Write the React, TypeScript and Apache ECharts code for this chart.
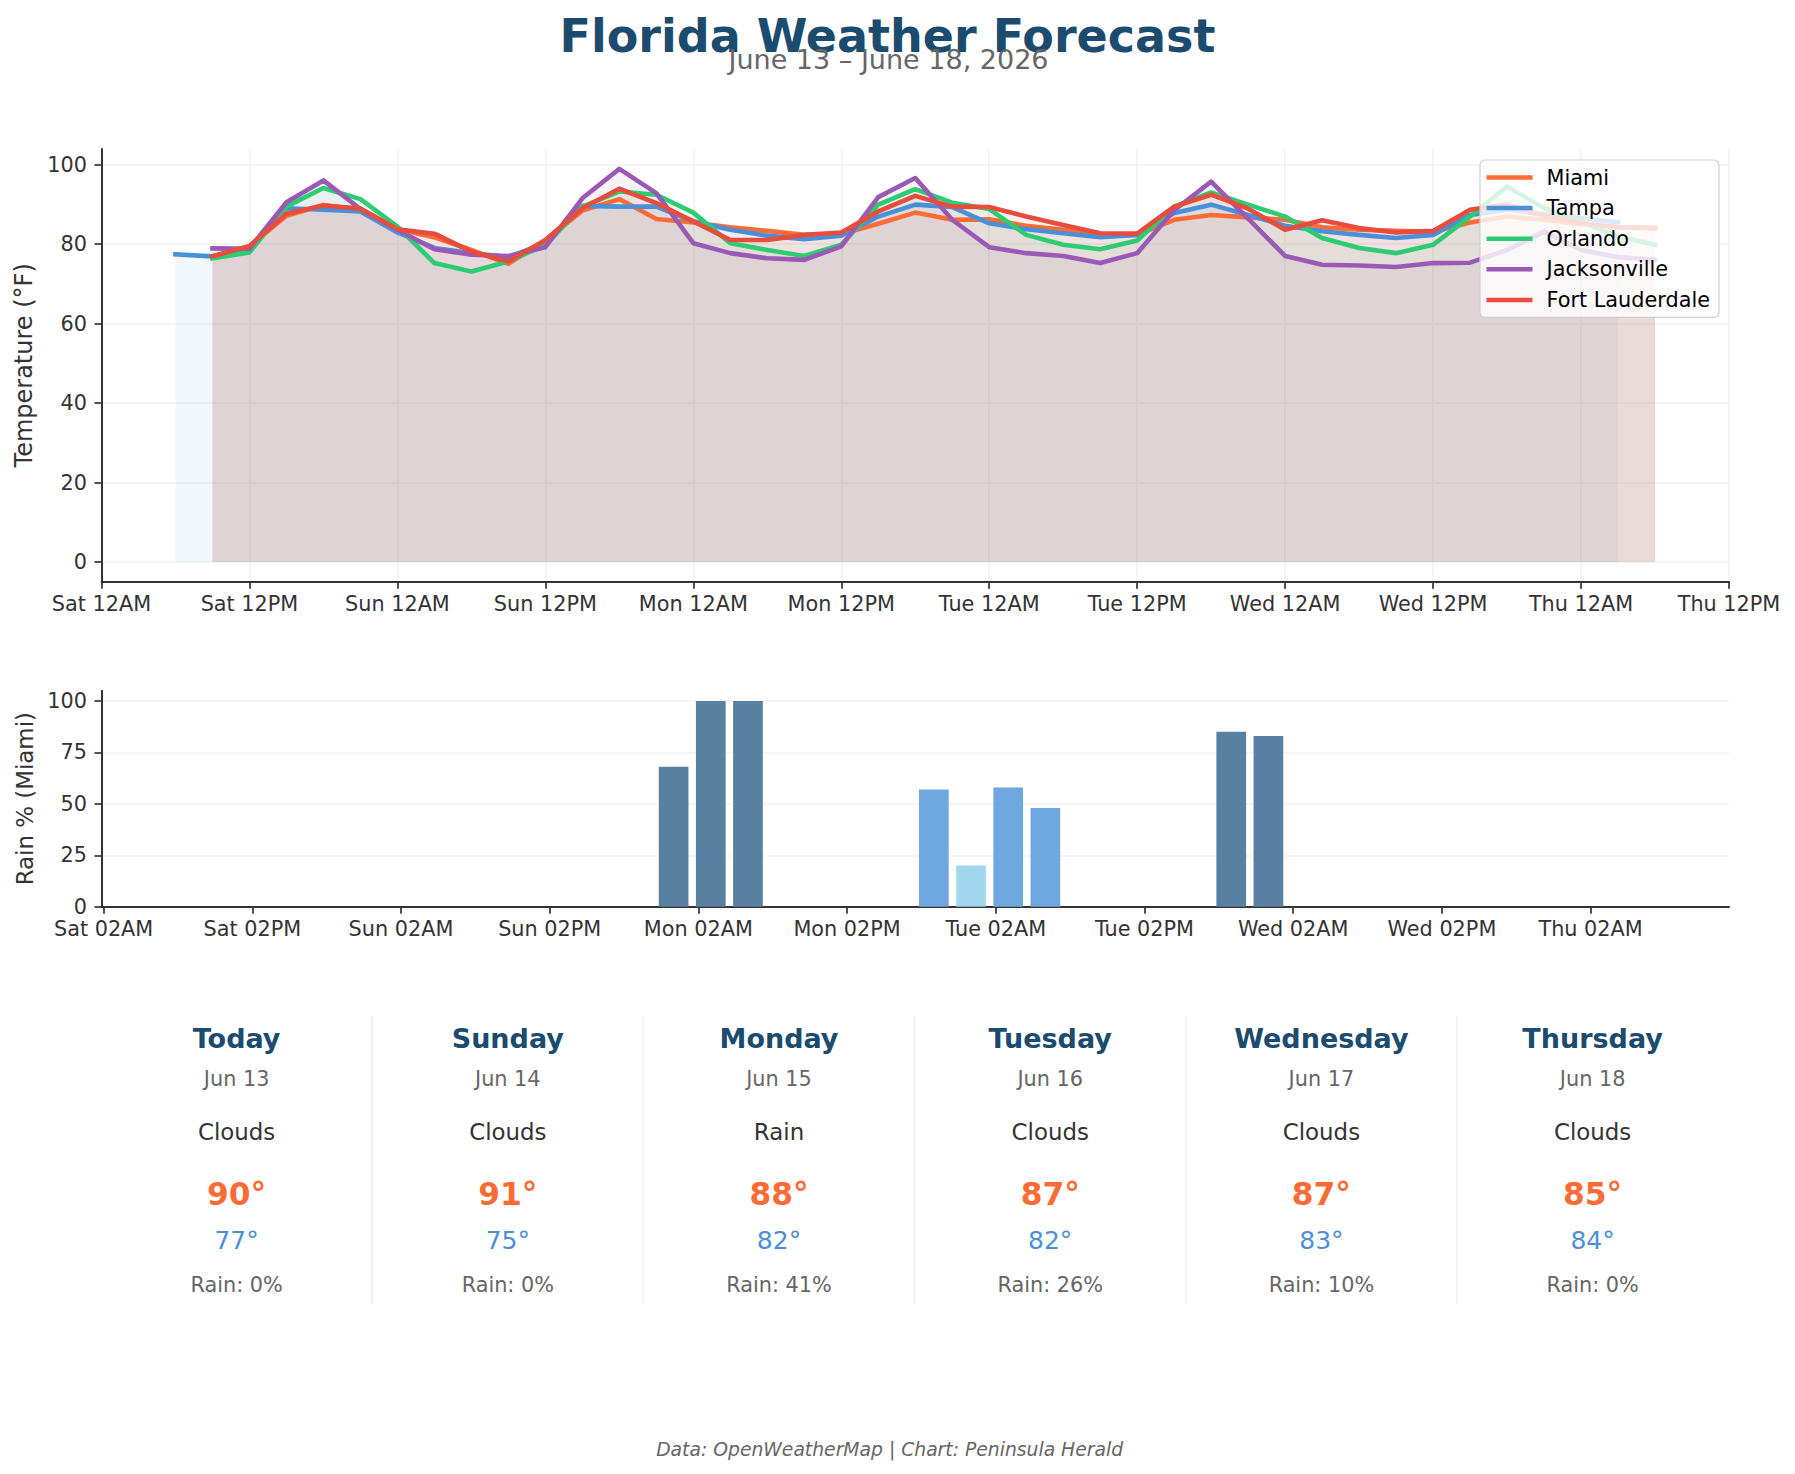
import React, { useEffect, useRef } from 'react';
import * as echarts from 'echarts';

const W = 1795;
const H = 1474;
const FONT = '"DejaVu Sans", "Noto Sans", sans-serif';

// Forecast times, hours after Sat Jun 13 2026 00:00 (3-hourly)
const HOURS = [9, 12, 15, 18, 21, 24, 27, 30, 33, 36, 39, 42, 45, 48, 51, 54, 57, 60, 63, 66, 69, 72, 75, 78, 81, 84, 87, 90, 93, 96, 99, 102, 105, 108, 111, 114, 117, 120, 123, 126];
const TAMPA_HOURS = [6, 9, 12, 15, 18, 21, 24, 27, 30, 33, 36, 39, 42, 45, 48, 51, 54, 57, 60, 63, 66, 69, 72, 75, 78, 81, 84, 87, 90, 93, 96, 99, 102, 105, 108, 111, 114, 117, 120, 123];

const MIAMI = [76.7, 79.4, 87.1, 89.8, 88.6, 83.7, 81.7, 78.5, 75.0, 80.9, 88.4, 91.3, 86.3, 85.4, 84.2, 83.3, 82.3, 82.5, 85.1, 87.9, 86.1, 86.2, 84.6, 83.6, 82.3, 82.3, 86.1, 87.3, 86.7, 86.1, 84.2, 83.6, 83.3, 83.1, 85.4, 86.9, 86.1, 85.0, 84.2, 84.0];
const TAMPA = [77.4, 76.9, 79.0, 89.0, 88.6, 88.2, 82.9, 79.0, 77.7, 76.7, 80.2, 89.6, 89.4, 89.4, 85.7, 83.6, 82.1, 81.2, 82.1, 86.9, 89.9, 89.3, 85.2, 83.7, 82.7, 81.7, 82.3, 87.8, 89.9, 87.3, 84.6, 83.2, 82.3, 81.5, 82.3, 87.3, 88.6, 87.5, 86.5, 85.5];
const ORLANDO = [76.4, 77.9, 89.4, 94.1, 91.3, 84.4, 75.2, 73.1, 75.6, 79.8, 89.4, 93.2, 92.4, 87.9, 80.2, 78.5, 77.0, 79.8, 89.9, 93.8, 90.4, 88.8, 82.3, 79.8, 78.7, 80.9, 89.4, 93.0, 89.9, 86.9, 81.5, 79.0, 77.7, 79.8, 86.9, 94.5, 89.0, 85.7, 81.9, 79.8];
const JACKSONVILLE = [78.9, 78.8, 90.5, 96.0, 88.8, 83.6, 78.7, 77.3, 77.0, 79.2, 91.5, 98.9, 92.8, 80.2, 77.7, 76.4, 76.0, 79.4, 91.8, 96.6, 86.1, 79.2, 77.7, 77.0, 75.2, 77.7, 88.5, 95.7, 86.4, 77.0, 74.8, 74.6, 74.2, 75.2, 75.3, 78.5, 83.1, 78.5, 76.7, 76.0];
const FORT_LAUDERDALE = [76.9, 79.5, 87.6, 89.7, 88.9, 83.7, 82.6, 78.1, 75.6, 81.0, 89.0, 93.9, 90.3, 85.7, 81.0, 81.0, 82.3, 82.9, 88.2, 92.1, 89.4, 89.3, 86.9, 84.8, 82.7, 82.6, 89.4, 92.4, 88.9, 83.6, 86.0, 84.0, 82.9, 83.3, 88.6, 89.9, 87.1, 85.3, 84.2, 84.0];

// Miami rain probability (%), same times as HOURS
const RAIN_MIAMI = [0, 0, 0, 0, 0, 0, 0, 0, 0, 0, 0, 0, 0, 68, 100, 100, 0, 0, 0, 0, 57, 20, 58, 48, 0, 0, 0, 0, 85, 83, 0, 0, 0, 0, 0, 0, 0, 0, 0, 0];

// Tick labels
const TOP_TICKS = [0, 12, 24, 36, 48, 60, 72, 84, 96, 108, 120, 132];
const TOP_TICK_LABELS = ['Sat 12AM', 'Sat 12PM', 'Sun 12AM', 'Sun 12PM', 'Mon 12AM', 'Mon 12PM', 'Tue 12AM', 'Tue 12PM', 'Wed 12AM', 'Wed 12PM', 'Thu 12AM', 'Thu 12PM'];
const RAIN_TICKS = [2, 14, 26, 38, 50, 62, 74, 86, 98, 110, 122];
const RAIN_TICK_LABELS = ['Sat 02AM', 'Sat 02PM', 'Sun 02AM', 'Sun 02PM', 'Mon 02AM', 'Mon 02PM', 'Tue 02AM', 'Tue 02PM', 'Wed 02AM', 'Wed 02PM', 'Thu 02AM'];
const TEMP_TICKS = [0, 20, 40, 60, 80, 100];
const RAIN_Y_TICKS = [0, 25, 50, 75, 100];

// Daily cards
const DAY_NAMES = ['Today', 'Sunday', 'Monday', 'Tuesday', 'Wednesday', 'Thursday'];
const DAY_DATES = ['Jun 13', 'Jun 14', 'Jun 15', 'Jun 16', 'Jun 17', 'Jun 18'];
const CONDITIONS = ['Clouds', 'Clouds', 'Rain', 'Clouds', 'Clouds', 'Clouds'];
const HI = [90, 91, 88, 87, 87, 85];
const LO = [77, 75, 82, 82, 83, 84];
const RAIN_PCT = [0, 0, 41, 26, 10, 0];

const CITY_NAMES = ['Miami', 'Tampa', 'Orlando', 'Jacksonville', 'Fort Lauderdale'];
const CITY_COLORS = ['#ff6b35', '#4a90d9', '#2ecc71', '#9b59b6', '#e74c3c'];

function hexToRgba(hex: string, a: number) {
  const n = parseInt(hex.slice(1), 16);
  return `rgba(${(n >> 16) & 255},${(n >> 8) & 255},${n & 255},${a})`;
}

function rainColor(v: number) {
  if (v >= 60) return '#5880a0';
  if (v >= 30) return '#6fa8de';
  return '#a1d7ee';
}

function buildOption() {
  const cityData = [MIAMI, TAMPA, ORLANDO, JACKSONVILLE, FORT_LAUDERDALE];
  const cityHours = [HOURS, TAMPA_HOURS, HOURS, HOURS, HOURS];
  const pairs = cityData.map((vals, ci) => vals.map((v, i) => [cityHours[ci][i], v]));

  const areaSeries = pairs.map((d, ci) => ({
    type: 'line',
    name: CITY_NAMES[ci] + ' fill',
    xAxisIndex: 0,
    yAxisIndex: 0,
    data: d,
    symbol: 'none',
    silent: true,
    z: 1,
    lineStyle: { width: 0, opacity: 0 },
    areaStyle: { color: hexToRgba(CITY_COLORS[ci], 0.1), origin: 0 },
  }));
  const lineSeries = pairs.map((d, ci) => ({
    type: 'line',
    name: CITY_NAMES[ci],
    xAxisIndex: 0,
    yAxisIndex: 0,
    data: d,
    symbol: 'none',
    z: 3,
    itemStyle: { color: CITY_COLORS[ci] },
    lineStyle: { color: CITY_COLORS[ci], width: 4.6, cap: 'square', join: 'round' },
  }));
  const rainSeries = {
    type: 'bar',
    name: 'Rain',
    xAxisIndex: 1,
    yAxisIndex: 1,
    barWidth: 29.7,
    data: RAIN_MIAMI.map((v, i) => ({ value: [HOURS[i], v], itemStyle: { color: rainColor(v) } })),
  };

  const axisLineStyle = { color: '#333', width: 2 };
  const tickStyle = { color: '#333', width: 1.7 };
  const labelStyle = { fontFamily: FONT, fontSize: 20.8, color: '#333' };
  const gridLine = { show: true, lineStyle: { color: '#f2f2f2', width: 1.5 } };

  const colX = (i: number) => 236.6 + 271.2 * i;
  const graphics: any[] = [];
  const txt = (x: number, y: number, text: string, font: string, fill: string) => ({
    type: 'text',
    x,
    y,
    silent: true,
    style: { text, font, fill, align: 'center', verticalAlign: 'middle', textAlign: 'center', textVerticalAlign: 'middle' },
  });
  graphics.push(txt(887.5, 35.5, 'Florida Weather Forecast', `bold 46px ${FONT}`, '#1b4b6e'));
  graphics.push(txt(888.5, 59, 'June 13 – June 18, 2026', `27px ${FONT}`, '#666666'));
  for (let i = 0; i < 5; i++) {
    const x = 372.2 + 271.2 * i;
    graphics.push({ type: 'line', silent: true, shape: { x1: x, y1: 1016, x2: x, y2: 1304 }, style: { stroke: '#eeeeee', lineWidth: 1.5 } });
  }
  DAY_NAMES.forEach((d, i) => {
    const x = colX(i);
    graphics.push(txt(x, 1038.8, d, `bold 27px ${FONT}`, '#1b4b6e'));
    graphics.push(txt(x, 1079, DAY_DATES[i], `20.8px ${FONT}`, '#666666'));
    graphics.push(txt(x, 1132, CONDITIONS[i], `22.9px ${FONT}`, '#333333'));
    graphics.push(txt(x, 1194, `${HI[i]}°`, `bold 31.25px ${FONT}`, '#ff6b35'));
    graphics.push(txt(x, 1240.5, `${LO[i]}°`, `25px ${FONT}`, '#4a90d9'));
    graphics.push(txt(x, 1284.8, `Rain: ${RAIN_PCT[i]}%`, `20.8px ${FONT}`, '#666666'));
  });
  graphics.push(txt(889.6, 1449.5, 'Data: OpenWeatherMap | Chart: Peninsula Herald', `italic 18.75px ${FONT}`, '#666666'));

  return {
    animation: false,
    backgroundColor: '#ffffff',
    textStyle: { fontFamily: FONT },
    grid: [
      { left: 101.5, top: 149, width: 1627.5, height: 432.7, containLabel: false, outerBoundsMode: 'none' },
      { left: 101.5, top: 690.7, width: 1627.5, height: 216, containLabel: false, outerBoundsMode: 'none' },
    ],
    legend: {
      data: CITY_NAMES,
      orient: 'vertical',
      left: 1480,
      top: 160,
      padding: [7, 9, 7, 6.5],
      itemGap: 9.6,
      itemWidth: 46,
      itemHeight: 4.5,
      icon: 'rect',
      selectedMode: false,
      backgroundColor: 'rgba(255,255,255,0.8)',
      borderColor: '#d0d0d0',
      borderWidth: 1.2,
      borderRadius: 5,
      textStyle: { fontFamily: FONT, fontSize: 20.8, color: '#000', lineHeight: 21, padding: [0, 0, 0, 9] },
    },
    xAxis: [
      {
        gridIndex: 0,
        type: 'value',
        min: 0,
        max: 132,
        interval: 12,
        axisLine: { show: true, onZero: false, lineStyle: axisLineStyle },
        axisTick: { show: true, length: 7, inside: false, lineStyle: tickStyle },
        axisLabel: {
          ...labelStyle,
          margin: 12,
          showMinLabel: true,
          showMaxLabel: true,
          formatter: (v: number) => {
            const i = TOP_TICKS.indexOf(Math.round(v));
            return i >= 0 ? TOP_TICK_LABELS[i] : '';
          },
        },
        splitLine: gridLine,
      },
      {
        gridIndex: 1,
        type: 'value',
        min: 1.83,
        max: 133.17,
        axisLine: { show: true, onZero: false, lineStyle: axisLineStyle },
        axisTick: { show: true, length: 7, inside: false, lineStyle: tickStyle, customValues: RAIN_TICKS },
        axisLabel: {
          ...labelStyle,
          margin: 12,
          customValues: RAIN_TICKS,
          formatter: (v: number) => {
            const i = RAIN_TICKS.indexOf(Math.round(v));
            return i >= 0 ? RAIN_TICK_LABELS[i] : '';
          },
        },
        splitLine: { show: false },
      },
    ],
    yAxis: [
      {
        gridIndex: 0,
        type: 'value',
        min: -4.95,
        max: 103.9,
        name: 'Temperature (°F)',
        nameLocation: 'middle',
        nameRotate: 90,
        nameGap: 62,
        nameTextStyle: { fontFamily: FONT, fontSize: 24, color: '#333' },
        axisLine: { show: true, onZero: false, lineStyle: axisLineStyle },
        axisTick: { show: true, length: 7, inside: false, lineStyle: tickStyle, customValues: TEMP_TICKS },
        axisLabel: { ...labelStyle, margin: 14.5, customValues: TEMP_TICKS },
        splitLine: gridLine,
      },
      {
        gridIndex: 1,
        type: 'value',
        min: 0,
        max: 105,
        name: 'Rain % (Miami)',
        nameLocation: 'middle',
        nameRotate: 90,
        nameGap: 61,
        nameTextStyle: { fontFamily: FONT, fontSize: 22.9, color: '#333' },
        axisLine: { show: true, onZero: false, lineStyle: axisLineStyle },
        axisTick: { show: true, length: 7, inside: false, lineStyle: tickStyle, customValues: RAIN_Y_TICKS },
        axisLabel: { ...labelStyle, margin: 14.5, customValues: RAIN_Y_TICKS },
        splitLine: gridLine,
      },
    ],
    series: [...areaSeries, ...lineSeries, rainSeries],
    graphic: { elements: graphics },
  };
}

export default function App() {
  const ref = useRef<HTMLDivElement>(null);
  useEffect(() => {
    if (!ref.current) return;
    const chart = echarts.init(ref.current, undefined, { renderer: 'svg', width: W, height: H });
    chart.setOption(buildOption() as any);
    return () => chart.dispose();
  }, []);
  return (
    <div
      ref={ref}
      style={{ position: 'absolute', left: 0, top: 0, width: W, height: H, background: '#fff' }}
    />
  );
}
